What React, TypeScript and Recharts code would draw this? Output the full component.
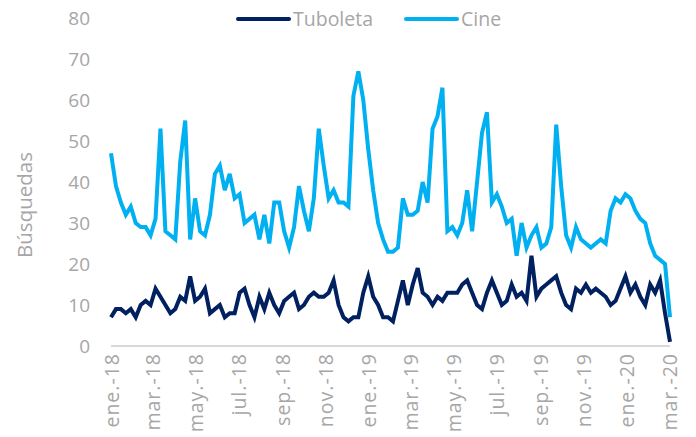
import React from 'react';
import { LineChart, Line, XAxis, YAxis } from 'recharts';

// weekly search index, first week starting 31 dec 2017
const startDate = '2017-12-31';

const tuboleta = [
  7, 9, 9, 8, 9, 7, 10, 11, 10, 14,
  12, 10, 8, 9, 12, 11, 17, 11, 12, 14,
  8, 9, 10, 7, 8, 8, 13, 14, 10, 7,
  12, 9, 13, 10, 8, 11, 12, 13, 9, 10,
  12, 13, 12, 12, 13, 16, 10, 7, 6, 7,
  7, 13, 17, 12, 10, 7, 7, 6, 11, 16,
  10, 15, 19, 13, 12, 10, 12, 11, 13, 13,
  13, 15, 16, 13, 10, 9, 13, 16, 13, 10,
  11, 15, 12, 13, 11, 22, 12, 14, 15, 16,
  17, 13, 10, 9, 14, 13, 15, 13, 14, 13,
  12, 10, 11, 14, 17, 13, 15, 12, 10, 15,
  13, 16, 8, 1,
];

const cine = [
  47, 39, 35, 32, 34, 30, 29, 29, 27, 31,
  53, 28, 27, 26, 45, 55, 26, 36, 28, 27,
  32, 42, 44, 38, 42, 36, 37, 30, 31, 32,
  26, 32, 25, 35, 35, 28, 24, 29, 39, 33,
  28, 36, 53, 44, 36, 38, 35, 35, 34, 61,
  67, 60, 48, 38, 30, 26, 23, 23, 24, 36,
  32, 32, 33, 40, 35, 53, 56, 63, 28, 29,
  27, 30, 38, 28, 40, 52, 57, 35, 37, 34,
  30, 31, 22, 30, 24, 27, 29, 24, 25, 29,
  54, 39, 27, 24, 29, 26, 25, 24, 25, 26,
  25, 33, 36, 35, 37, 36, 33, 31, 30, 25,
  22, 21, 20, 7,
];

const tickDates = [
  '2018-01-01', '2018-03-01', '2018-05-01', '2018-07-01', '2018-09-01', '2018-11-01',
  '2019-01-01', '2019-03-01', '2019-05-01', '2019-07-01', '2019-09-01', '2019-11-01',
  '2020-01-01', '2020-03-01',
];
const tickLabels = [
  'ene.-18', 'mar.-18', 'may.-18', 'jul.-18', 'sep.-18', 'nov.-18',
  'ene.-19', 'mar.-19', 'may.-19', 'jul.-19', 'sep.-19', 'nov.-19',
  'ene.-20', 'mar.-20',
];
const yTicks = [0, 10, 20, 30, 40, 50, 60, 70, 80];

const DAY = 86400000;
const toDay = (d: string) => Math.round((Date.parse(d) - Date.parse(startDate)) / DAY);

const data = tuboleta.map((v, i) => ({ day: i * 7, tuboleta: v, cine: cine[i] }));
const xTicks = tickDates.map(toDay);

const FONT = '"Open Sans", sans-serif';
const GREY = '#a6a6a6';
const NAVY = '#002060';
const SKY = '#00b0f0';

const XTick = (props: any) => {
  const { x, y, payload } = props;
  const label = tickLabels[xTicks.indexOf(payload.value)];
  return (
    <text
      x={x}
      y={y}
      dy="0.35em"
      transform={`rotate(-90, ${x}, ${y})`}
      textAnchor="end"
      fill={GREY}
      fontSize={19.5}
      letterSpacing={1}
      fontFamily={FONT}
    >
      {label}
    </text>
  );
};

export default function App() {
  return (
    <div style={{ position: 'absolute', left: 0, top: 0, width: 696, height: 437, background: '#fff' }}>
      <div
        style={{
          position: 'absolute',
          top: 5,
          left: 236,
          display: 'flex',
          alignItems: 'center',
          fontFamily: FONT,
          fontSize: 19.5,
          color: GREY,
          zIndex: 2,
        }}
      >
        <div style={{ width: 55, height: 4, background: NAVY, borderRadius: 2 }} />
        <span style={{ marginLeft: 2 }}>Tuboleta</span>
        <div style={{ width: 55, height: 4, background: SKY, borderRadius: 2, marginLeft: 31 }} />
        <span style={{ marginLeft: 2 }}>Cine</span>
      </div>

      <LineChart
        width={696}
        height={437}
        data={data}
        margin={{ top: 18, right: 26, bottom: 0, left: 0 }}
      >
        <XAxis
          dataKey="day"
          type="number"
          domain={[0, toDay('2020-03-01')]}
          ticks={xTicks}
          tick={<XTick />}
          tickLine={false}
          axisLine={{ stroke: '#d9d9d9', strokeWidth: 2 }}
          height={91}
          tickMargin={1}
          interval={0}
        />
        <YAxis
          domain={[0, 80]}
          ticks={yTicks}
          width={111}
          axisLine={false}
          tickLine={false}
          tickMargin={15}
          tick={{ fill: GREY, fontSize: 19, fontFamily: FONT }}
          label={({ viewBox }: any) => (
            <text
              x={viewBox.x + 24}
              y={viewBox.y + viewBox.height / 2 + 23}
              transform={`rotate(-90, ${viewBox.x + 24}, ${viewBox.y + viewBox.height / 2 + 23})`}
              textAnchor="middle"
              dominantBaseline="central"
              fill={GREY}
              fontSize={20.5}
              fontFamily={FONT}
            >
              Búsquedas
            </text>
          )}
        />
        <Line
          type="linear"
          dataKey="cine"
          stroke={SKY}
          strokeWidth={4}
          dot={false}
          isAnimationActive={false}
        />
        <Line
          type="linear"
          dataKey="tuboleta"
          stroke={NAVY}
          strokeWidth={4}
          dot={false}
          isAnimationActive={false}
        />
      </LineChart>
    </div>
  );
}
